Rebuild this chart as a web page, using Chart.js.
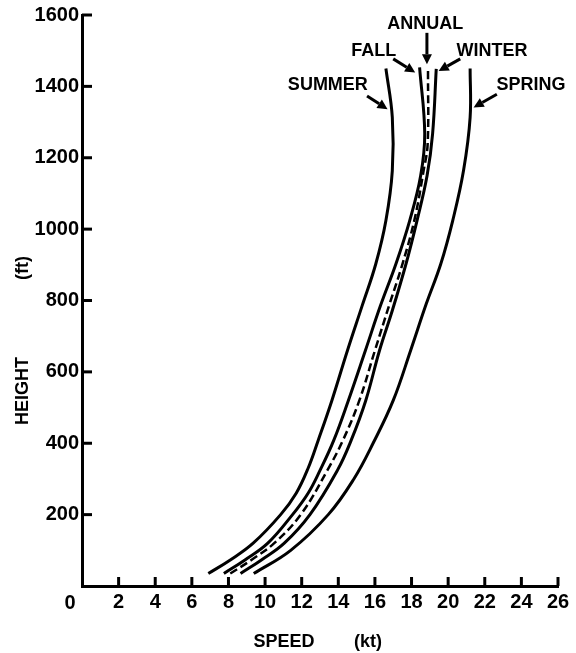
<!DOCTYPE html>
<html>
<head>
<meta charset="utf-8">
<script src="https://cdn.jsdelivr.net/npm/chart.js@4/dist/chart.umd.min.js"></script>
<style>
  body { margin:0; background:#fff; }
  #wrap { width:576px; height:653px; position:relative; }
</style>
</head>
<body>
<div id="wrap"><canvas id="main-chart"></canvas></div>
<script>
// ====== Wind speed vs height, by season ======
const summerHeight = [35, 73, 120, 200, 260, 330, 408, 520, 660, 785, 903, 1024, 1164, 1313, 1450];
const summerSpeed  = [6.9, 8.1, 9.35, 10.85, 11.7, 12.35, 12.9, 13.65, 14.5, 15.3, 16.05, 16.6, 16.95, 16.95, 16.6];

const fallHeight = [35, 73, 120, 200, 260, 324, 408, 520, 660, 785, 903, 1024, 1150, 1267, 1453];
const fallSpeed  = [7.75, 8.9, 10.15, 11.5, 12.35, 13.0, 13.75, 14.55, 15.48, 16.3, 17.15, 17.9, 18.5, 18.72, 18.44];

const annualHeight = [35, 73, 120, 200, 324, 408, 520, 660, 790, 893, 1024, 1164, 1239, 1443];
const annualSpeed  = [8.1, 9.25, 10.5, 11.95, 13.4, 14.25, 15.15, 16.0, 16.8, 17.45, 18.15, 18.66, 18.88, 18.9];

const winterHeight = [35, 73, 120, 200, 324, 408, 520, 660, 772, 903, 1024, 1150, 1267, 1449];
const winterSpeed  = [8.66, 9.8, 11.05, 12.45, 13.95, 14.7, 15.5, 16.25, 16.95, 17.7, 18.3, 18.85, 19.15, 19.35];

const springHeight = [35, 100, 200, 300, 400, 520, 660, 790, 903, 1024, 1164, 1313, 1450];
const springSpeed  = [9.38, 11.4, 13.45, 14.85, 15.9, 17.0, 17.95, 18.8, 19.6, 20.25, 20.84, 21.2, 21.2];

// curve labels: text position and arrow (speed, height)
const labelNames = ["SUMMER", "FALL", "ANNUAL", "WINTER", "SPRING"];
const labelAt    = [[13.43, 1404], [15.93, 1499], [18.75, 1574], [22.39, 1499], [24.52, 1403]];
const arrowFrom  = [[15.57, 1373], [17.0, 1477], [18.84, 1550], [20.66, 1477], [22.66, 1378]];
const arrowTo    = [[16.69, 1336], [18.2, 1439], [18.84, 1462], [19.48, 1443], [21.39, 1341]];

const FONT = '"Liberation Sans", Arial, sans-serif';

function toPoints(xs, ys){ return xs.map((v,i)=>({x:v, y:ys[i]})); }

function curve(label, xs, ys, dash){
  return {
    label: label,
    data: toPoints(xs, ys),
    showLine: true,
    borderColor: "#000",
    borderWidth: dash ? 2.5 : 3,
    borderDash: dash || [],
    pointRadius: 0,
    tension: 0.4,
    fill: false
  };
}

const decorations = {
  id: "decorations",
  afterDraw(chart){
    const ctx = chart.ctx;
    const xs = chart.scales.x, ys = chart.scales.y;
    const area = chart.chartArea;
    ctx.save();
    ctx.strokeStyle = "#000";
    ctx.fillStyle = "#000";
    ctx.lineWidth = 3;
    ctx.lineCap = "butt";

    // inward tick marks
    for(let v=2; v<=26; v+=2){
      const px = xs.getPixelForValue(v);
      ctx.beginPath(); ctx.moveTo(px, area.bottom); ctx.lineTo(px, area.bottom-9); ctx.stroke();
    }
    for(let v=200; v<=1600; v+=200){
      const py = ys.getPixelForValue(v);
      ctx.beginPath(); ctx.moveTo(area.left, py); ctx.lineTo(area.left+10, py); ctx.stroke();
    }

    // origin label
    ctx.font = "bold 20px " + FONT;
    ctx.textAlign = "center";
    ctx.textBaseline = "middle";
    ctx.fillText("0", 70, 603);

    // axis titles
    ctx.font = "bold 18px " + FONT;
    ctx.fillText("SPEED", 284, 642);
    ctx.fillText("(kt)", 368, 642);
    ctx.save();
    ctx.translate(23, 0);
    ctx.rotate(-Math.PI/2);
    ctx.fillText("HEIGHT", -391, 0);
    ctx.fillText("(ft)", -268, 0);
    ctx.restore();

    // curve labels and arrows
    labelNames.forEach((name,i)=>{
      ctx.fillText(name, xs.getPixelForValue(labelAt[i][0]), ys.getPixelForValue(labelAt[i][1]));
      const x1 = xs.getPixelForValue(arrowFrom[i][0]), y1 = ys.getPixelForValue(arrowFrom[i][1]);
      const x2 = xs.getPixelForValue(arrowTo[i][0]),   y2 = ys.getPixelForValue(arrowTo[i][1]);
      const ang = Math.atan2(y2-y1, x2-x1);
      const head = 10, half = 5;
      const bx = x2 - head*Math.cos(ang), by = y2 - head*Math.sin(ang);
      ctx.beginPath(); ctx.moveTo(x1, y1); ctx.lineTo(bx, by); ctx.stroke();
      ctx.beginPath();
      ctx.moveTo(x2, y2);
      ctx.lineTo(bx + half*Math.sin(ang), by - half*Math.cos(ang));
      ctx.lineTo(bx - half*Math.sin(ang), by + half*Math.cos(ang));
      ctx.closePath(); ctx.fill();
    });
    ctx.restore();
  }
};

new Chart(document.getElementById("main-chart").getContext("2d"), {
  type: "scatter",
  data: {
    datasets: [
      curve("Summer", summerSpeed, summerHeight),
      curve("Fall", fallSpeed, fallHeight),
      curve("Annual", annualSpeed, annualHeight, [8,4]),
      curve("Winter", winterSpeed, winterHeight),
      curve("Spring", springSpeed, springHeight)
    ]
  },
  options: {
    responsive: true,
    maintainAspectRatio: false,
    animation: false,
    layout: { padding: { top: 14, right: 18, left: 0, bottom: 0 } },
    plugins: { legend: { display: false }, tooltip: { enabled: false } },
    scales: {
      x: {
        type: "linear", min: 0, max: 26,
        afterFit: s => { s.height = 67; },
        grid: { display: false, drawTicks: false },
        border: { display: true, color: "#000", width: 3 },
        ticks: {
          stepSize: 2, padding: 4, color: "#000", maxRotation: 0,
          font: { family: FONT, size: 20, weight: "bold" },
          callback: v => v === 0 ? "" : v
        }
      },
      y: {
        type: "linear", min: 0, max: 1600,
        afterFit: s => { s.width = 82; },
        grid: { display: false, drawTicks: false },
        border: { display: true, color: "#000", width: 3 },
        ticks: {
          stepSize: 200, padding: 3, color: "#000",
          font: { family: FONT, size: 20, weight: "bold" },
          callback: v => v === 0 ? "" : v
        }
      }
    }
  },
  plugins: [decorations]
});
</script>
</body>
</html>
